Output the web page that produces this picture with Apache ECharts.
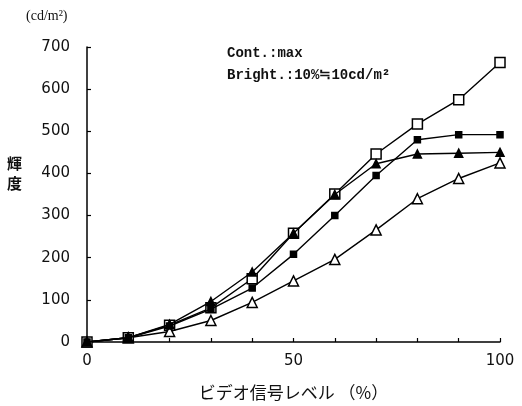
<!DOCTYPE html>
<html>
<head>
<meta charset="utf-8">
<script src="https://cdn.jsdelivr.net/npm/echarts@6/dist/echarts.min.js"></script>
<style>
html, body { margin: 0; padding: 0; background: #fff; }
#chart { width: 522px; height: 406px; }
</style>
</head>
<body>
<div id="chart"></div>
<script>
// video signal level (%)
var levels = [0, 10, 20, 30, 40, 50, 60, 70, 80, 90, 100];
// luminance (cd/m2) per curve
var openSquare = [0, 10, 40, 81, 150, 258, 351, 446, 517, 575, 663];
var smallSquare = [0, 10, 38, 78, 128, 208, 300, 395, 480, 492, 492];
var solidTriangle = [0, 10, 42, 96, 166, 258, 350, 423, 446, 448, 450];
var openTriangle = [0, 10, 25, 51, 94, 145, 196, 266, 340, 388, 425];

var xLabels = [0, 50, 100];

function pairs(vals) {
    var list = [];
    for (var i = 0; i < levels.length; i++) {
        list.push([levels[i], vals[i]]);
    }
    return list;
}

function line(name, vals, symbol, size, fill) {
    return {
        name: name,
        type: 'line',
        data: pairs(vals),
        symbol: symbol,
        symbolSize: size,
        showAllSymbol: true,
        lineStyle: { color: '#000', width: 1.4 },
        itemStyle: { color: fill, borderColor: '#000', borderWidth: 1.5 },
        z: fill === '#fff' ? 3 : 4
    };
}

var chart = echarts.init(document.getElementById('chart'));

var option = {
    backgroundColor: '#fff',
    animation: false,
    grid: { left: 87, right: 22, top: 47, bottom: 56 },
    xAxis: {
        type: 'value',
        min: 0,
        max: 100,
        interval: 10,
        name: 'ビデオ信号レベル （%）',
        nameLocation: 'middle',
        nameGap: 42,
        nameTextStyle: { fontFamily: 'Noto Sans CJK JP', fontSize: 17, color: '#111' },
        axisLine: { lineStyle: { color: '#000', width: 1.5 } },
        axisTick: { inside: true, length: 4, lineStyle: { color: '#000', width: 1.2 } },
        splitLine: { show: false },
        axisLabel: {
            margin: 12,
            fontFamily: 'DejaVu Sans',
            fontSize: 15,
            color: '#111',
            formatter: function (v) { return xLabels.indexOf(v) >= 0 ? String(v) : ''; }
        }
    },
    yAxis: {
        type: 'value',
        min: 0,
        max: 700,
        interval: 100,
        axisLine: { show: true, lineStyle: { color: '#000', width: 1.5 } },
        axisTick: { show: true, inside: true, length: 4, lineStyle: { color: '#000', width: 1.2 } },
        splitLine: { show: false },
        axisLabel: { margin: 17, fontFamily: 'DejaVu Sans', fontSize: 15, color: '#111' }
    },
    graphic: [
        { type: 'text', left: 26, top: 9, style: { text: '(cd/m²)', font: '14px "Liberation Serif"', fill: '#111' } },
        { type: 'text', left: 7, top: 153, style: { text: '輝\n度', font: 'bold 15px "Noto Sans CJK JP"', fill: '#111', lineHeight: 20 } },
        { type: 'text', left: 227, top: 46, style: { text: 'Cont.:max', font: 'bold 14px "Liberation Mono"', fill: '#111' } },
        { type: 'text', left: 227, top: 68, style: { text: 'Bright.:10%≒10cd/m²', font: 'bold 14px "Liberation Mono"', fill: '#111' } }
    ],
    series: [
        line('open square', openSquare, 'rect', 10, '#fff'),
        line('small square', smallSquare, 'rect', 6, '#000'),
        line('solid triangle', solidTriangle, 'triangle', 8, '#000'),
        line('open triangle', openTriangle, 'triangle', 10, '#fff')
    ]
};

chart.setOption(option);
</script>
</body>
</html>
